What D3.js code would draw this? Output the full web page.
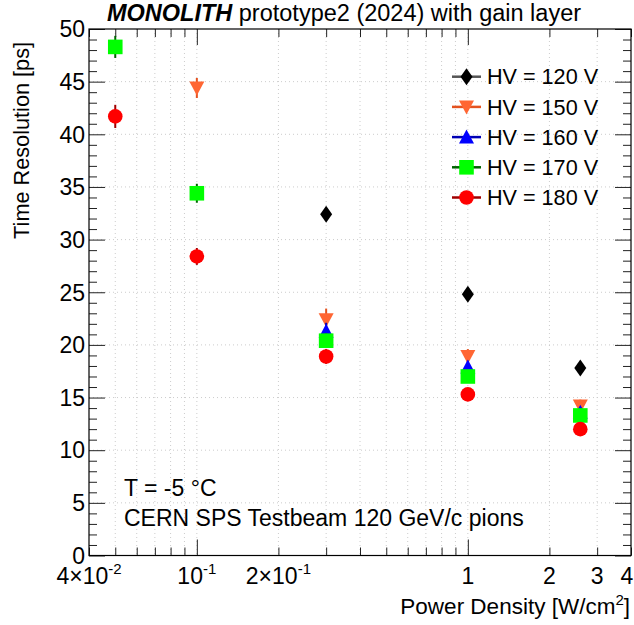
<!DOCTYPE html>
<html><head><meta charset="utf-8">
<script src="https://cdn.jsdelivr.net/npm/d3@7"></script>
<style>body{margin:0;background:#fff}svg{display:block}text{font-family:"Liberation Sans",Arial,Helvetica,sans-serif;fill:#000}</style>
</head><body>
<script>
// ---- data ----
const powerDensity = [0.05, 0.1, 0.3, 1, 2.6];
const seriesNames = ["HV = 120 V", "HV = 150 V", "HV = 160 V", "HV = 170 V", "HV = 180 V"];
const hv120 = [null, null, 32.4, 24.8, 17.8];
const hv150 = [null, 44.4, 22.4, 18.9, 14.2];
const hv160 = [null, null, 21.3, 17.9, 13.6];
const hv170 = [48.3, 34.4, 20.4, 17.0, 13.3];
const hv180 = [41.7, 28.4, 18.9, 15.3, 12.0];
const err120 = [null, null, 0.6, 0.6, 0.5];
const err150 = [null, 0.95, 1.05, 0.7, 0.6];
const err160 = [null, null, 0.8, 0.6, 0.5];
const err170 = [1.05, 0.9, 0.7, 0.6, 0.5];
const err180 = [1.1, 0.8, 0.7, 0.6, 0.6];
const xTickValues = [0.04, 0.1, 0.2, 1, 2, 3, 4];
const xTickMantissa = ["4\u00d710", "10", "2\u00d710", "1", "2", "3", "4"];
const xTickExponent = ["-2", "-1", "-1", "", "", "", ""];
const yTickValues = [0, 5, 10, 15, 20, 25, 30, 35, 40, 45, 50];

// ---- styles ----
const styles = [
  {shape: "diamond", fill: "#000000", line: "#555555"},
  {shape: "tdown", fill: "#ff6633", line: "#e4521f"},
  {shape: "tup", fill: "#0000ff", line: "#0000b4"},
  {shape: "square", fill: "#00ff00", line: "#006400"},
  {shape: "circle", fill: "#ff0000", line: "#a00000"}
];
const values = [hv120, hv150, hv160, hv170, hv180];
const errors = [err120, err150, err160, err170, err180];

const W = 634, H = 625;
const L = 89, R = 631, T = 29, B = 555.5;
const svg = d3.select("body").append("svg").attr("width", W).attr("height", H);
const x = d3.scaleLog().domain([0.04, 4]).range([L, R]);
const y = d3.scaleLinear().domain([0, 50]).range([B, T]);

// minor x ticks
const xMinor = [];
[0.01, 0.1, 1].forEach(dec => { for (let k = 1; k <= 9; k++) { const v = dec * k; if (v >= 0.04 - 1e-9 && v <= 4 + 1e-9) xMinor.push(+v.toPrecision(3)); } });
const xMajor = [0.1, 1];
const yMinor = d3.range(0, 51, 1);

// grid
const grid = svg.append("g");
grid.selectAll(".gx").data(xMinor.filter(v => v > 0.04 && v < 4)).join("line")
  .attr("x1", d => x(d)).attr("x2", d => x(d)).attr("y1", T).attr("y2", B)
  .attr("stroke", "#cccccc").attr("stroke-width", 1).attr("stroke-dasharray", "1,3");
grid.selectAll(".gy").data(yTickValues.filter(v => v > 0 && v < 50)).join("line")
  .attr("x1", L).attr("x2", R).attr("y1", d => y(d)).attr("y2", d => y(d))
  .attr("stroke", "#cccccc").attr("stroke-width", 1).attr("stroke-dasharray", "1,3");

// axes ticks
function ticks(axisGen, tx, ty) {
  svg.append("g").attr("transform", `translate(${tx},${ty})`).call(axisGen)
    .call(g => g.select(".domain").remove())
    .call(g => g.selectAll("line").attr("stroke", "#222"));
}
const tf = () => "";
ticks(d3.axisTop(x).tickValues(xMinor.filter(v => !xMajor.includes(v))).tickSize(8).tickFormat(tf), 0, B);
ticks(d3.axisTop(x).tickValues(xMajor).tickSize(16).tickFormat(tf), 0, B);
ticks(d3.axisBottom(x).tickValues(xMinor.filter(v => !xMajor.includes(v))).tickSize(8).tickFormat(tf), 0, T);
ticks(d3.axisBottom(x).tickValues(xMajor).tickSize(16).tickFormat(tf), 0, T);
ticks(d3.axisRight(y).tickValues(yMinor.filter(v => v % 5)).tickSize(8).tickFormat(tf), L, 0);
ticks(d3.axisRight(y).tickValues(yTickValues).tickSize(16).tickFormat(tf), L, 0);
ticks(d3.axisLeft(y).tickValues(yMinor.filter(v => v % 5)).tickSize(8).tickFormat(tf), R, 0);
ticks(d3.axisLeft(y).tickValues(yTickValues).tickSize(16).tickFormat(tf), R, 0);

// frame
svg.append("rect").attr("x", L).attr("y", T).attr("width", R - L).attr("height", B - T)
  .attr("fill", "none").attr("stroke", "#000").attr("stroke-width", 1.2);

// y tick labels
svg.append("g").selectAll("text").data(yTickValues).join("text")
  .attr("x", L - 4).attr("y", d => y(d)).attr("dy", "0.36em")
  .attr("text-anchor", "end").attr("font-size", 23).text(d => d);

// x tick labels
const xl = svg.append("g").selectAll("text").data(xTickValues).join("text")
  .attr("x", (d) => Math.min(x(d), W - 7)).attr("y", 584).attr("text-anchor", "middle").attr("font-size", 23);
xl.each(function(d, i) {
  const t = d3.select(this);
  t.append("tspan").text(xTickMantissa[i]);
  if (xTickExponent[i]) t.append("tspan").attr("dy", -10).attr("font-size", 15).text(xTickExponent[i]);
});

// axis titles
svg.append("text").attr("transform", "translate(29,42) rotate(-90)").attr("text-anchor", "end")
  .attr("font-size", 21.7).text("Time Resolution [ps]");
const xt = svg.append("text").attr("x", 630).attr("y", 614).attr("text-anchor", "end").attr("font-size", 22.5);
xt.append("tspan").text("Power Density [W/cm");
xt.append("tspan").attr("dy", -9).attr("font-size", 15).text("2");
xt.append("tspan").attr("dy", 9).text("]");

// title
const tt = svg.append("text").attr("x", 344).attr("y", 21).attr("text-anchor", "middle").attr("font-size", 23.5);
tt.append("tspan").attr("font-weight", "bold").attr("font-style", "italic").text("MONOLITH");
tt.append("tspan").text(" prototype2 (2024) with gain layer");

// annotations
svg.append("text").attr("x", 124).attr("y", 496).attr("font-size", 23).text("T = -5 \u00b0C");
svg.append("text").attr("x", 124).attr("y", 526).attr("font-size", 23).text("CERN SPS Testbeam 120 GeV/c pions");

// markers
function markerPath(shape) {
  switch (shape) {
    case "diamond": return "M0,-8.5L6,0L0,8.5L-6,0Z";
    case "tdown": return "M-7.5,-6.5L7.5,-6.5L0,7.5Z";
    case "tup": return "M-7.5,6.5L7.5,6.5L0,-7.5Z";
    case "square": return "M-7.3,-7.3L7.3,-7.3L7.3,7.3L-7.3,7.3Z";
    case "circle": return d3.arc()({innerRadius: 0, outerRadius: 7.3, startAngle: 0, endAngle: 2 * Math.PI});
  }
}

const plot = svg.append("g");
values.forEach((vals, s) => {
  const pts = powerDensity.map((p, i) => ({p, v: vals[i], e: errors[s][i]})).filter(d => d.v != null);
  const g = plot.append("g");
  g.selectAll("line").data(pts).join("line")
    .attr("x1", d => x(d.p)).attr("x2", d => x(d.p))
    .attr("y1", d => y(d.v - d.e)).attr("y2", d => y(d.v + d.e))
    .attr("stroke", styles[s].line).attr("stroke-width", 2);
  g.selectAll("path").data(pts).join("path")
    .attr("transform", d => `translate(${x(d.p)},${y(d.v)})`)
    .attr("d", markerPath(styles[s].shape)).attr("fill", styles[s].fill);
});

// legend
const lg = svg.append("g");
seriesNames.forEach((name, i) => {
  const yy = 76.7 + i * 30.2;
  lg.append("line").attr("x1", 452).attr("x2", 481).attr("y1", yy).attr("y2", yy)
    .attr("stroke", styles[i].line).attr("stroke-width", 2.5);
  lg.append("path").attr("transform", `translate(466.5,${yy})`).attr("d", markerPath(styles[i].shape)).attr("fill", styles[i].fill);
  lg.append("text").attr("x", 487).attr("y", yy).attr("dy", "0.36em").attr("font-size", 21.6).text(name);
});
</script>
</body></html>
